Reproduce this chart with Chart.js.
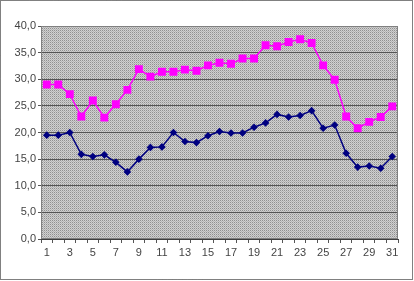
<!DOCTYPE html>
<html><head><meta charset="utf-8">
<script src="https://cdn.jsdelivr.net/npm/chart.js@4/dist/chart.umd.min.js"></script>
<style>html,body{margin:0;padding:0;background:#fff}#wrap{width:414px;height:281px;position:relative}</style>
</head><body><div id="wrap"><canvas id="c" width="414" height="281"></canvas></div>
<script>
const categories = ["1","2","3","4","5","6","7","8","9","10","11","12","13","14","15","16","17","18","19","20","21","22","23","24","25","26","27","28","29","30","31"];
const pinkSeries = [29.0,29.0,27.2,23.0,26.0,22.8,25.3,28.0,31.9,30.5,31.4,31.4,31.8,31.6,32.6,33.1,32.9,33.9,33.9,36.4,36.2,37.0,37.5,36.8,32.6,29.9,23.0,20.8,22.0,22.9,24.9];
const blueSeries = [19.5,19.5,20.0,15.9,15.5,15.8,14.4,12.6,15.0,17.2,17.3,20.0,18.3,18.1,19.4,20.2,19.9,19.9,21.0,21.8,23.4,22.9,23.2,24.1,20.8,21.4,16.1,13.5,13.7,13.3,15.5];
const yTicks = {min:0, max:40, step:5};

function makePattern(ctx){
  const t=document.createElement('canvas');t.width=2;t.height=2;
  const c=t.getContext('2d');
  c.fillStyle='#d0d0d0';c.fillRect(0,0,2,2);
  c.fillStyle='#909090';c.fillRect(0,0,1,1);
  c.fillStyle='#b4b4b4';c.fillRect(1,1,1,1);
  return ctx.createPattern(t,'repeat');
}
const bgPlugin={id:'bg',
  beforeDraw(chart){const {ctx,chartArea:a}=chart;ctx.save();
    ctx.fillStyle=makePattern(ctx);ctx.fillRect(a.left,a.top,a.right-a.left,a.bottom-a.top);ctx.restore();},
  afterDraw(chart){const {ctx,chartArea:a}=chart;ctx.save();
    ctx.strokeStyle='#808080';ctx.lineWidth=1;
    ctx.strokeRect(Math.round(a.left)+0.5,Math.round(a.top)+0.5,Math.round(a.right-a.left)-1,Math.round(a.bottom-a.top)-1);
    ctx.strokeStyle='#000';ctx.setLineDash([1,1]);
    ctx.strokeRect(0.5,0.5,412,279);
    ctx.restore();}
};
new Chart(document.getElementById('c'),{
  type:'line',
  data:{labels:categories,datasets:[
    {data:pinkSeries,borderColor:'#ff00ff',backgroundColor:'#ff00ff',borderWidth:1.5,pointStyle:'rect',pointRadius:5.6,pointBorderWidth:0,tension:0},
    {data:blueSeries,borderColor:'#000080',backgroundColor:'#000080',borderWidth:1.5,pointStyle:'rectRot',pointRadius:3.8,pointBorderWidth:0,tension:0}
  ]},
  options:{responsive:false,animation:false,
    layout:{padding:{top:26,right:16,left:0,bottom:0}},
    plugins:{legend:{display:false},tooltip:{enabled:false}},
    scales:{
      x:{offset:true,
        grid:{offset:true,drawOnChartArea:false,color:'#555',tickLength:4},
        border:{color:'#404040'},
        ticks:{autoSkip:false,maxRotation:0,padding:3,color:'#444',font:{family:'Liberation Sans',size:11},
          callback:(v,i)=>i%2===0?categories[i]:''},
        afterFit:s=>{s.height=42;}},
      y:{min:yTicks.min,max:yTicks.max,
        grid:{color:'#555',tickLength:3},
        border:{color:'#404040'},
        ticks:{stepSize:yTicks.step,padding:2,color:'#444',font:{family:'Liberation Sans',size:11},
          callback:v=>v.toFixed(1).replace('.',',')},
        afterFit:s=>{s.width=41;}}
    }
  },
  plugins:[bgPlugin]
});
</script></body></html>
